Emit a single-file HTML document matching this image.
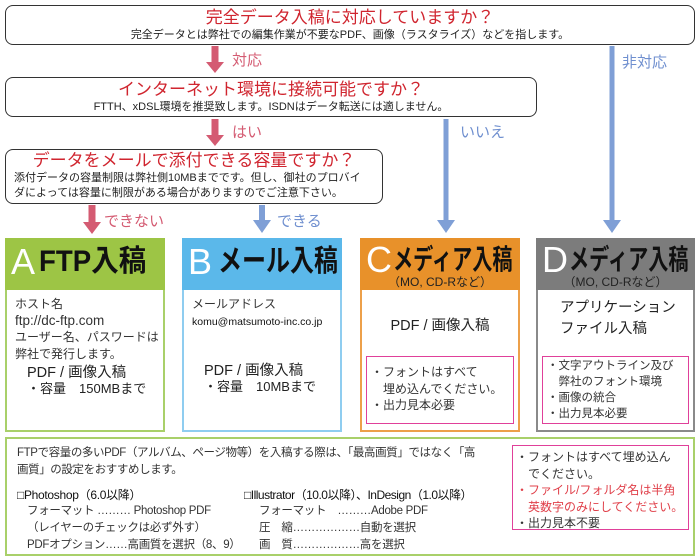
<!DOCTYPE html>
<html><head><meta charset="utf-8"><style>
*{margin:0;padding:0;box-sizing:border-box}
body{width:700px;height:560px;background:#fff;position:relative;overflow:hidden;font-family:"Liberation Sans","Noto Sans CJK JP",sans-serif;color:#222}
.a{position:absolute;white-space:nowrap}
.q{position:absolute;border:1.5px solid #333;border-radius:8px;background:#fff}
.red{color:#d0252f}
.t{font-size:17px;text-align:center;left:0;right:0;line-height:20px}
.s{font-size:11px;line-height:15px}
.hd{position:absolute;height:52px}
.L{position:absolute;color:#fff;font-size:36px;top:2px;left:6px;line-height:44px}
.N{position:absolute;font-weight:bold;font-size:30px;line-height:44px;top:2px;color:#111;white-space:nowrap;transform-origin:0 50%}
.sub{position:absolute;left:0;right:0;text-align:center;font-size:12px;top:38px;line-height:13px;color:#222;white-space:nowrap}
.card{position:absolute;top:238px;height:194px;border:2px solid}
.pink{position:absolute;border:1.5px solid #e0409a}
.txt{font-size:12px;line-height:16.5px}
</style></head><body>
<svg class="a" style="left:0;top:0" width="700" height="240">
<g fill="#d45b72" stroke="#d45b72">
<line x1="215" y1="46" x2="215" y2="64" stroke-width="7"/><polygon points="206,62 224,62 215,73" stroke="none"/>
<line x1="215" y1="119" x2="215" y2="137" stroke-width="7"/><polygon points="206,135 224,135 215,146" stroke="none"/>
<line x1="92" y1="205" x2="92" y2="224" stroke-width="7"/><polygon points="83,222 101,222 92,234" stroke="none"/>
</g>
<g fill="#7f9fd6" stroke="#7f9fd6">
<line x1="612" y1="46" x2="612" y2="222" stroke-width="5"/><polygon points="603,220 621,220 612,233" stroke="none"/>
<line x1="446" y1="119" x2="446" y2="222" stroke-width="5"/><polygon points="437,220 455,220 446,233" stroke="none"/>
<line x1="262" y1="205" x2="262" y2="222" stroke-width="6"/><polygon points="253,220 271,220 262,233" stroke="none"/>
</g></svg>
<div class="q" style="left:5px;top:5px;width:690px;height:40px">
<div class="a t red" style="top:2px">完全データ入稿に対応していますか？</div>
<div class="a s" style="top:22px;left:0;right:0;text-align:center">完全データとは弊社での編集作業が不要なPDF、画像（ラスタライズ）などを指します。</div></div>
<div class="a" style="left:232px;top:49px;font-size:15px;color:#d45b72">対応</div>
<div class="a" style="left:622px;top:51px;font-size:15px;color:#6f8fcf">非対応</div>
<div class="q" style="left:5px;top:77px;width:532px;height:40px">
<div class="a t red" style="top:2px">インターネット環境に接続可能ですか？</div>
<div class="a s" style="top:22px;left:0;right:0;text-align:center">FTTH、xDSL環境を推奨致します。ISDNはデータ転送には適しません。</div></div>
<div class="a" style="left:232px;top:121px;font-size:15px;color:#d45b72">はい</div>
<div class="a" style="left:460px;top:121px;font-size:15px;color:#6f8fcf">いいえ</div>
<div class="q" style="left:5px;top:149px;width:378px;height:55px">
<div class="a t red" style="top:1px">データをメールで添付できる容量ですか？</div>
<div class="a s" style="top:21px;left:8px">添付データの容量制限は弊社側10MBまでです。但し、御社のプロバイ<br>ダによっては容量に制限がある場合がありますのでご注意下さい。</div></div>
<div class="a" style="left:104px;top:210px;font-size:15px;color:#d45b72">できない</div>
<div class="a" style="left:277px;top:210px;font-size:15px;color:#6f8fcf">できる</div>

<div class="card" style="left:5px;width:160px;border-color:#a9d06a">
<div class="hd" style="left:-2px;top:-2px;width:160px;background:#9dc545"><div class="L">A</div><div class="N" style="left:34px;transform:scaleX(0.92)">FTP入稿</div></div>
<div class="a txt" style="left:8px;top:56px;color:#333">ホスト名<br><span style="font-size:13.5px">ftp://dc-ftp.com</span><br>ユーザー名、パスワードは<br>弊社で発行します。</div>
<div class="a" style="left:20px;top:125px;font-size:14.5px;line-height:16px">PDF / 画像入稿<br><span style="font-size:13px">・容量　150MBまで</span></div></div>

<div class="card" style="left:182px;width:160px;border-color:#8fcdf0">
<div class="hd" style="left:-2px;top:-2px;width:160px;background:#5bb8ea"><div class="L">B</div><div class="N" style="left:36px;transform:scaleX(0.8)">メール入稿</div></div>
<div class="a txt" style="left:8px;top:56px;color:#333">メールアドレス<br><span style="font-size:10.5px;color:#111">komu@matsumoto-inc.co.jp</span></div>
<div class="a" style="left:20px;top:123px;font-size:14.5px;line-height:16px">PDF / 画像入稿<br><span style="font-size:13px">・容量　10MBまで</span></div></div>

<div class="card" style="left:360px;width:160px;border-color:#eda04a">
<div class="hd" style="left:-2px;top:-2px;width:160px;background:#e8912a"><div class="L" style="top:0">C</div><div class="N" style="left:33px;top:0;font-size:28px;transform:scaleX(0.72)">メディア入稿</div><div class="sub">（MO, CD-Rなど）</div></div>
<div class="a" style="left:0;right:0;text-align:center;top:74px;font-size:14.5px">PDF / 画像入稿</div>
<div class="pink" style="left:4px;top:116px;width:148px;height:68px"><div class="a txt" style="left:4px;top:7px;color:#333">・フォントはすべて<br>　埋め込んでください。<br>・出力見本必要</div></div></div>

<div class="card" style="left:536px;width:159px;border-color:#8a8a8a">
<div class="hd" style="left:-2px;top:-2px;width:159px;background:#7c7c7c"><div class="L" style="top:0">D</div><div class="N" style="left:33px;top:0;font-size:28px;transform:scaleX(0.72)">メディア入稿</div><div class="sub">（MO, CD-Rなど）</div></div>
<div class="a" style="left:22px;top:58px;font-size:14.5px;line-height:21px">アプリケーション<br>ファイル入稿</div>
<div class="pink" style="left:4px;top:116px;width:147px;height:68px"><div class="a" style="font-size:11.5px;line-height:16px;left:4px;top:1px;color:#333">・文字アウトライン及び<br>　弊社のフォント環境<br>・画像の統合<br>・出力見本必要</div></div></div>

<div class="a" style="left:5px;top:437px;width:690px;height:119px;border:2px solid #a9d06a">
<div class="a" style="left:10px;top:6px;color:#333;font-size:11.5px;line-height:17px;letter-spacing:-0.4px">FTPで容量の多いPDF（アルバム、ページ物等）を入稿する際は、「最高画質」ではなく「高<br>画質」の設定をおすすめします。</div>
<div class="a" style="left:10px;top:47px;font-size:12px;color:#111;letter-spacing:-0.3px">□Photoshop（6.0以降）</div>
<div class="a" style="left:20px;top:64px;color:#333;font-size:11.5px;line-height:17px;letter-spacing:-0.3px">フォーマット ……… Photoshop PDF<br>（レイヤーのチェックは必ず外す）<br>PDFオプション……高画質を選択（8、9）</div>
<div class="a" style="left:237px;top:47px;font-size:12px;color:#111;letter-spacing:-0.5px">□Illustrator（10.0以降）、InDesign（1.0以降）</div>
<div class="a" style="left:252px;top:64px;color:#333;font-size:11.5px;line-height:17px;letter-spacing:-0.3px">フォーマット　………Adobe PDF<br>圧　縮………………自動を選択<br>画　質………………高を選択</div>
<div class="pink" style="left:505px;top:6px;width:177px;height:85px"><div class="a txt" style="left:3px;top:3px;color:#333">・フォントはすべて埋め込ん<br>　でください。<br><span style="color:#e0404a">・ファイル/フォルダ名は半角<br>　英数字のみにしてください。</span><br>・出力見本不要</div></div>
</div>
</body></html>
